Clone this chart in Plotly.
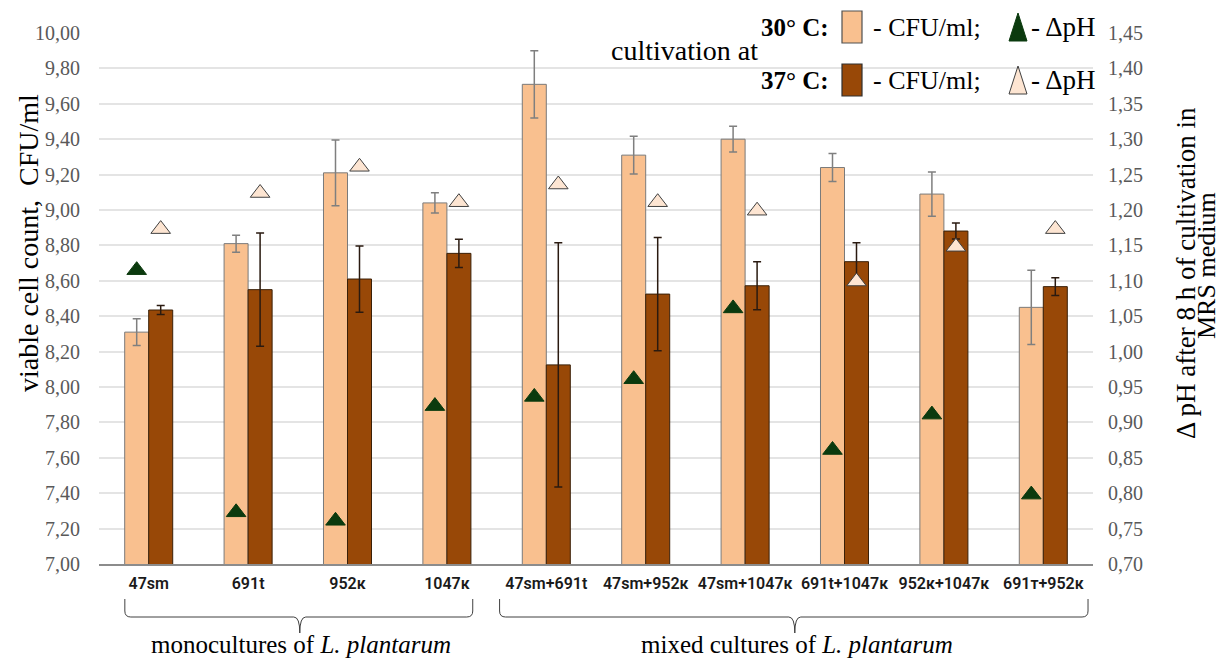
import plotly.graph_objects as go
import numpy as np

categories = ["47sm", "691t", "952к", "1047к", "47sm+691t", "47sm+952к",
              "47sm+1047к", "691t+1047к", "952к+1047к", "691т+952к"]
cfu_30 = [8.31, 8.81, 9.21, 9.04, 9.71, 9.31, 9.40, 9.24, 9.09, 8.45]
cfu_30_err = [0.075, 0.048, 0.186, 0.057, 0.19, 0.107, 0.073, 0.079, 0.125, 0.21]
cfu_37 = [8.435, 8.55, 8.61, 8.755, 8.125, 8.525, 8.572, 8.708, 8.881, 8.567]
cfu_37_err = [0.025, 0.32, 0.187, 0.08, 0.69, 0.32, 0.135, 0.107, 0.045, 0.05]
dph_30 = [1.115, 0.773, 0.761, 0.923, 0.936, 0.961, 1.061, 0.861, 0.911, 0.798]
dph_37 = [1.173, 1.224, 1.261, 1.211, 1.236, 1.211, 1.199, 1.099, 1.148, 1.173]

idx = np.arange(len(categories))
bargap = 0.517
half = (1 - bargap) / 4  # offset of each bar centre from category centre

W, H = 1221, 659
ML, MR, MT, MB = 99, 128, 33, 95
PW, PH = W - ML - MR, H - MT - MB


def px(xp):
    return (xp - ML) / PW


def py(yp):
    return (H - MB - yp) / PH


SERIF = "Liberation Serif"
C30 = "#F9C08F"
C37 = "#984807"
DARK = "#0B3A0E"
LIGHT = "#FDE5D2"

fig = go.Figure()
fig.add_trace(go.Bar(x=idx, y=cfu_30, name="30° C", marker=dict(color=C30, line=dict(color="#7a7a7a", width=1)),
                     error_y=dict(type="data", array=cfu_30_err, color="#7f7f7f", thickness=1.5, width=4)))
fig.add_trace(go.Bar(x=idx, y=cfu_37, name="37° C", marker=dict(color=C37, line=dict(color="#3a2008", width=1)),
                     error_y=dict(type="data", array=cfu_37_err, color="#2a1a10", thickness=1.5, width=4)))
fig.add_trace(go.Scatter(x=idx - half, y=dph_30, yaxis="y2", mode="markers",
                         marker=dict(symbol="triangle-up", size=17, color=DARK, line=dict(color=DARK, width=1))))
fig.add_trace(go.Scatter(x=idx + half, y=dph_37, yaxis="y2", mode="markers",
                         marker=dict(symbol="triangle-up", size=17, color=LIGHT, line=dict(color="#404040", width=1))))

shapes = []
annotations = []


def txt(text, x, y, size, xanchor="left", xref="paper", angle=0):
    annotations.append(dict(text=text, x=x, y=y, xref=xref, yref="paper", xanchor=xanchor, yanchor="middle",
                            textangle=angle, showarrow=False,
                            font=dict(family=SERIF, size=size, color="black")))


# legend block
txt("cultivation at", px(609), py(50), 28)
for row_y, lab, col, tri_col, rect_line in [(27, "30° C:", C30, DARK, "#505050"), (80, "37° C:", C37, LIGHT, "#303030")]:
    txt("<b>" + lab + "</b>", px(831), py(row_y), 25, xanchor="right")
    shapes.append(dict(type="rect", xref="paper", yref="paper", x0=px(842), x1=px(862),
                       y0=py(row_y + 16), y1=py(row_y - 16), fillcolor=col, line=dict(color=rect_line, width=1.2)))
    txt("- CFU/ml;", px(871), py(row_y), 26)
    tline = DARK if tri_col == DARK else "#404040"
    shapes.append(dict(type="path", xref="paper", yref="paper",
                       path=f"M {px(1009)},{py(row_y + 14)} L {px(1027)},{py(row_y + 14)} L {px(1018)},{py(row_y - 14)} Z",
                       fillcolor=tri_col, line=dict(color=tline, width=1)))
    txt("- ΔpH", px(1029), py(row_y), 27)

# axis titles
txt("viable cell count,  CFU/ml", px(28), py(243), 28, xanchor="center", angle=-90)
txt("Δ pH after 8 h of cultivation in", px(1186), py(273), 27, xanchor="center", angle=-90)
txt("MRS medium", px(1206), py(266), 26, xanchor="center", angle=-90)


# braces for the groups
def brace(xa, xb, xc):
    ya, yb, yc = py(599), py(617), py(633)
    e = py(611) - yb
    dx = 0.06
    return (f"M {xa},{ya} L {xa},{yb + e} Q {xa},{yb} {xa + dx},{yb} L {xc - dx},{yb} "
            f"Q {xc},{yb} {xc},{yc} Q {xc},{yb} {xc + dx},{yb} L {xb - dx},{yb} "
            f"Q {xb},{yb} {xb},{yb + e} L {xb},{ya}")


shapes.append(dict(type="path", xref="x", yref="paper", path=brace(-0.24, 3.26, 1.52),
                   line=dict(color="#404040", width=1)))
shapes.append(dict(type="path", xref="x", yref="paper", path=brace(3.53, 9.45, 6.5),
                   line=dict(color="#404040", width=1)))
txt("monocultures of <i>L. plantarum</i>", 1.53, py(644), 25, xanchor="center", xref="x")
txt("mixed cultures of <i>L. plantarum</i>", 6.52, py(644), 25, xanchor="center", xref="x")

fig.update_layout(
    width=W, height=H, margin=dict(l=ML, r=MR, t=MT, b=MB),
    paper_bgcolor="white", plot_bgcolor="white", showlegend=False,
    barmode="group", bargap=bargap, bargroupgap=0,
    separators=", ",
    xaxis=dict(range=[-0.5, 9.5], tickmode="array", tickvals=idx, ticktext=categories,
               showgrid=False, zeroline=False, showline=True, linecolor="#8c8c8c", linewidth=1.5,
               ticks="", ticklabelstandoff=4,
               tickfont=dict(family="Roboto", size=16, color="#1a1a1a", weight=600)),
    yaxis=dict(range=[7, 10], dtick=0.2, tick0=7, tickformat=".2f", showgrid=True, gridcolor="#e4e4e4",
               gridwidth=1.5, zeroline=False, showline=False, ticks="", ticklabelstandoff=18,
               tickfont=dict(family=SERIF, size=20, color="#595959")),
    yaxis2=dict(range=[0.70, 1.45], dtick=0.05, tick0=0.70, tickformat=".2f", overlaying="y", side="right",
                showgrid=False, zeroline=False, showline=False, ticks="", ticklabelstandoff=14,
                tickfont=dict(family=SERIF, size=20, color="#595959")),
    shapes=shapes, annotations=annotations,
)

fig.write_html("out.html", config={"displayModeBar": False},
               post_script="document.body.style.margin='0';document.body.style.overflow='hidden';")
